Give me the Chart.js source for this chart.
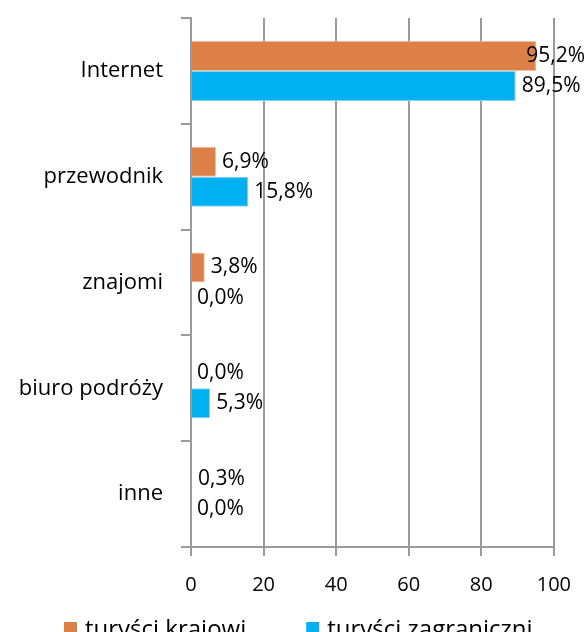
<!DOCTYPE html>
<html>
<head>
<meta charset="utf-8">
<script src="https://cdn.jsdelivr.net/npm/chart.js@4"></script>
<style>
  html, body { margin: 0; padding: 0; background: #fff; overflow: hidden; }
</style>
</head>
<body>
<canvas id="myChart" width="588" height="632"></canvas>
<script>
var categories = ['Internet', 'przewodnik', 'znajomi', 'biuro podróży', 'inne'];
var krajowi = [95.2, 6.9, 3.8, 0.0, 0.3];
var zagraniczni = [89.5, 15.8, 0.0, 5.3, 0.0];
var seriesNames = ['turyści krajowi', 'turyści zagraniczni'];
var xTicks = [0, 20, 40, 60, 80, 100];

var FONT = "'Open Sans', 'DejaVu Sans', sans-serif";

// etykiety z wartościami przy końcu słupków
var valueLabels = {
    id: 'valueLabels',
    afterDatasetsDraw: function (chart) {
        var ctx = chart.ctx;
        ctx.save();
        ctx.font = '21px ' + FONT;
        ctx.fillStyle = '#000';
        ctx.textBaseline = 'middle';
        chart.data.datasets.forEach(function (ds, i) {
            var meta = chart.getDatasetMeta(i);
            meta.data.forEach(function (bar, j) {
                var txt = ds.data[j].toFixed(1).replace('.', ',') + '%';
                var w = ctx.measureText(txt).width;
                var x = bar.x + 6;
                if (x + w > chart.width - 3) x = chart.width - 3 - w;
                ctx.fillText(txt, x, bar.y);
            });
        });
        ctx.restore();
    }
};

// legenda pod wykresem (rysowana recznie, zeby dac odstep jak w oryginale)
var bottomLegend = {
    id: 'bottomLegend',
    afterDraw: function (chart) {
        var ctx = chart.ctx;
        ctx.save();
        ctx.font = '24px ' + FONT;
        ctx.textBaseline = 'middle';
        var x = 64;
        var y = chart.height - 2;
        chart.data.datasets.forEach(function (ds) {
            ctx.fillStyle = ds.backgroundColor;
            ctx.fillRect(x, y - 8, 13, 13);
            ctx.fillStyle = '#000';
            ctx.fillText(ds.label, x + 21, y);
            x += 21 + ctx.measureText(ds.label).width + 60;
        });
        ctx.restore();
    }
};

var data = {
    labels: categories,
    datasets: [{
        label: seriesNames[0],
        data: krajowi,
        backgroundColor: '#DD8047',
        borderColor: '#F2BFA0',
        borderWidth: 1,
        categoryPercentage: 0.568,
        barPercentage: 1.0
    }, {
        label: seriesNames[1],
        data: zagraniczni,
        backgroundColor: '#00B0F0',
        borderColor: '#80D7F7',
        borderWidth: 1,
        categoryPercentage: 0.568,
        barPercentage: 1.0
    }]
};

var config = {
    type: 'bar',
    data: data,
    plugins: [valueLabels, bottomLegend],
    options: {
        indexAxis: 'y',
        responsive: false,
        animation: false,
        layout: { padding: { top: 18, right: 30, left: 0, bottom: 18 } },
        plugins: {
            legend: { display: false },
            tooltip: { enabled: false }
        },
        scales: {
            x: {
                min: 0,
                max: 100,
                afterBuildTicks: function (axis) {
                    axis.ticks = xTicks.map(function (v) { return { value: v }; });
                },
                grid: { color: '#9a9a9a', lineWidth: 2, tickLength: 9 },
                border: { color: '#9a9a9a', width: 2 },
                ticks: {
                    font: { family: FONT, size: 20 },
                    color: '#000',
                    padding: 17
                }
            },
            y: {
                afterFit: function (axis) {
                    axis.width = 191;
                    axis.paddingTop = 0;
                    axis.paddingBottom = 0;
                },
                grid: { drawOnChartArea: false, color: '#9a9a9a', lineWidth: 2, tickLength: 10 },
                border: { color: '#9a9a9a', width: 2 },
                ticks: {
                    font: { family: FONT, size: 22 },
                    color: '#000',
                    padding: 18
                }
            }
        }
    }
};

var myChart = new Chart(document.getElementById('myChart'), config);
</script>
</body>
</html>
